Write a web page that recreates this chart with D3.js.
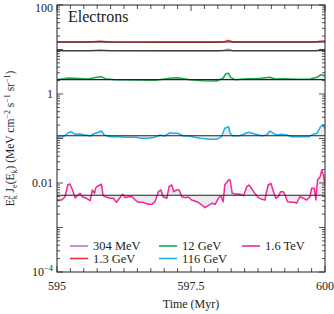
<!DOCTYPE html>
<html>
<head>
<meta charset="utf-8">
<script src="https://cdn.jsdelivr.net/npm/d3@7"></script>
<style>
  body { margin: 0; background: #fff; }
  text { font-family: "Liberation Serif", "DejaVu Serif", serif; fill: #222; }
</style>
</head>
<body>
<div id="chart"></div>
<script>
// series (time in Myr, flux in MeV cm^-2 s^-1 sr^-1)
var labels = ["304 MeV", "1.3 GeV", "12 GeV", "116 GeV", "1.6 TeV"];
var colors = ["#b07cc6", "#e8333a", "#22a55a", "#1fb0f0", "#ec2a9b"];
var means = [9.40, 14.75, 2.10, 0.115, 0.0053];

var timeMeV = [595, 595.6, 595.8, 596, 597, 598, 598.12, 598.2, 598.28, 599, 599.8, 599.92, 600];
var fluxMeV = [9.40, 9.40, 9.7, 9.40, 9.3, 9.3, 9.6, 10.2, 9.40, 9.35, 9.4, 9.7, 9.9];

var time1GeV = [595, 595.6, 595.8, 596, 597, 598, 598.12, 598.2, 598.28, 599, 599.8, 599.92, 600];
var flux1GeV = [14.75, 14.75, 15.3, 14.75, 14.6, 14.6, 14.9, 15.9, 14.75, 14.75, 14.75, 15.3, 15.6];

var time12GeV = [595.00, 595.21, 595.34, 595.58, 595.74, 595.83, 595.90, 596.08, 596.52, 596.83, 597.01,
  597.14, 597.26, 597.39, 597.48, 597.73, 597.98, 598.10, 598.15, 598.20, 598.24, 598.32, 598.54,
  598.73, 598.97, 599.07, 599.22, 599.47, 599.72, 599.85, 599.92, 599.97, 600.00];
var flux12GeV = [2.10, 2.29, 2.25, 2.17, 2.37, 2.45, 2.21, 2.10, 2.06, 2.03, 2.17,
  2.29, 2.32, 2.17, 2.10, 1.99, 1.96, 2.29, 2.86, 2.92, 2.37, 2.10, 2.21,
  2.21, 2.37, 2.17, 2.21, 2.14, 2.17, 2.37, 2.71, 2.63, 2.54];

var time116GeV = [595.00, 595.12, 595.21, 595.26, 595.34, 595.43, 595.52, 595.62, 595.68, 595.77, 595.83,
  595.88, 595.99, 596.14, 596.27, 596.46, 596.58, 596.70, 596.83, 596.92, 597.01, 597.11, 597.17,
  597.26, 597.36, 597.45, 597.67, 597.85, 597.98, 598.07, 598.13, 598.20, 598.23, 598.28, 598.41,
  598.57, 598.69, 598.82, 598.91, 598.97, 599.04, 599.10, 599.19, 599.29, 599.38, 599.53, 599.69,
  599.78, 599.85, 599.91, 599.96, 600.00];
var flux116GeV = [0.1064, 0.1097, 0.1349, 0.1422, 0.1242, 0.1262, 0.1199, 0.1138, 0.1262, 0.1377, 0.1476,
  0.1199, 0.1097, 0.1097, 0.1064, 0.1064, 0.1010, 0.1010, 0.1064, 0.1199, 0.1138, 0.1349, 0.1309,
  0.1309, 0.1138, 0.1138, 0.1010, 0.0959, 0.0959, 0.1097, 0.1695, 0.1841, 0.1309, 0.1156, 0.1156,
  0.1377, 0.1262, 0.1156, 0.1199, 0.1476, 0.1309, 0.1199, 0.1242, 0.1199, 0.1097, 0.1097, 0.1097,
  0.1242, 0.1309, 0.1786, 0.2011, 0.1695];

var time1TeV = [595.00, 595.09, 595.15, 595.20, 595.24, 595.29, 595.34, 595.39, 595.43, 595.47, 595.55,
  595.62, 595.66, 595.70, 595.72, 595.74, 595.80, 595.83, 595.86, 595.93, 595.99, 596.05, 596.11,
  596.18, 596.23, 596.27, 596.33, 596.40, 596.46, 596.52, 596.61, 596.70, 596.77, 596.83, 596.89,
  596.94, 596.98, 597.05, 597.09, 597.14, 597.18, 597.23, 597.28, 597.33, 597.39, 597.45, 597.51,
  597.61, 597.70, 597.76, 597.82, 597.89, 597.95, 598.01, 598.06, 598.10, 598.13, 598.20, 598.23,
  598.27, 598.35, 598.41, 598.48, 598.54, 598.58, 598.63, 598.69, 598.76, 598.82, 598.88, 598.91,
  598.94, 598.99, 599.04, 599.08, 599.13, 599.17, 599.22, 599.25, 599.30, 599.38, 599.44, 599.47,
  599.53, 599.60, 599.66, 599.72, 599.75, 599.80, 599.83, 599.86, 599.91, 599.94, 599.97, 600.00];
var flux1TeV = [0.00415, 0.00415, 0.00492, 0.00902, 0.00951, 0.00697, 0.00460, 0.00537, 0.00587, 0.00492, 0.00453,
  0.00400, 0.00697, 0.00587, 0.00760, 0.00826, 0.00902, 0.00935, 0.00519, 0.00477, 0.00453, 0.00453, 0.00368,
  0.00477, 0.00557, 0.00468, 0.00492, 0.00492, 0.00415, 0.00368, 0.00368, 0.00332, 0.00332, 0.00380, 0.00637,
  0.00697, 0.00492, 0.00453, 0.00826, 0.00902, 0.00637, 0.00697, 0.00697, 0.00492, 0.00468, 0.00484, 0.00415,
  0.00380, 0.00321, 0.00279, 0.00309, 0.00350, 0.00332, 0.00453, 0.00519, 0.00380, 0.00902, 0.01168, 0.01168,
  0.00587, 0.00557, 0.00566, 0.00519, 0.00826, 0.00902, 0.00760, 0.00587, 0.00468, 0.00430, 0.00415, 0.00637,
  0.00902, 0.00985, 0.00637, 0.00453, 0.00492, 0.00637, 0.00637, 0.00557, 0.00380, 0.00368, 0.00368, 0.00350,
  0.00492, 0.00453, 0.00415, 0.00492, 0.00760, 0.00760, 0.00415, 0.01168, 0.01386, 0.0196, 0.0151, 0.00902];

var times = [timeMeV, time1GeV, time12GeV, time116GeV, time1TeV];
var fluxes = [fluxMeV, flux1GeV, flux12GeV, flux116GeV, flux1TeV];

var xTickLabels = [595, 597.5, 600];
var yTickLabels = [100, 1, 0.01, 1e-4];

var width = 334, height = 314;
var margin = { top: 5, right: 9, bottom: 42, left: 57 };

var svg = d3.select("#chart").append("svg")
    .attr("width", width)
    .attr("height", height);

var x = d3.scaleLinear().domain([595, 600]).range([margin.left, width - margin.right]);
var y = d3.scaleLog().domain([1e-4, 100]).range([height - margin.bottom, margin.top]);

svg.append("clipPath").attr("id", "plotclip")
    .append("rect")
    .attr("x", x(595)).attr("y", y(100))
    .attr("width", x(600) - x(595)).attr("height", y(1e-4) - y(100));

var plot = svg.append("g").attr("clip-path", "url(#plotclip)");

// each series: faint grey band to its mean, coloured curve, then the black mean line on top
labels.forEach(function(label, i) {
    var pts = times[i].map(function(t, j) { return [t, fluxes[i][j]]; });

    var area = d3.area()
        .x(function(d) { return x(d[0]); })
        .y0(y(means[i]))
        .y1(function(d) { return y(d[1]); });

    plot.append("path")
        .datum(pts)
        .attr("d", area)
        .attr("fill", "#c8c8c8")
        .attr("opacity", 0.35);

    var line = d3.line()
        .x(function(d) { return x(d[0]); })
        .y(function(d) { return y(d[1]); });

    plot.append("path")
        .datum(pts)
        .attr("d", line)
        .attr("fill", "none")
        .attr("stroke", colors[i])
        .attr("stroke-width", 1.5)
        .attr("stroke-linejoin", "round");
});

plot.selectAll("line.mean")
    .data(means)
    .enter()
    .append("line")
    .attr("class", "mean")
    .attr("x1", x(595)).attr("x2", x(600))
    .attr("y1", function(d) { return y(d); })
    .attr("y2", function(d) { return y(d); })
    .attr("stroke", "#222")
    .attr("stroke-width", 1.1);

// inward ticks on all four sides
var xMinor = d3.range(0, 21).map(function(k) { return 595 + k * 0.25; });
var yMinor = [];
d3.range(-4, 2).forEach(function(e) {
    d3.range(1, 10).forEach(function(m) { yMinor.push(m * Math.pow(10, e)); });
});
yMinor.push(100);

var ticks = svg.append("g").attr("stroke", "#222").attr("stroke-width", 0.8);

ticks.selectAll("line.xb").data(xMinor).enter().append("line")
    .attr("x1", function(d) { return x(d); }).attr("x2", function(d) { return x(d); })
    .attr("y1", y(1e-4)).attr("y2", function(d) { return y(1e-4) - (xTickLabels.indexOf(d) >= 0 ? 6 : 4); });
ticks.selectAll("line.xt").data(xMinor).enter().append("line")
    .attr("x1", function(d) { return x(d); }).attr("x2", function(d) { return x(d); })
    .attr("y1", y(100)).attr("y2", function(d) { return y(100) + (xTickLabels.indexOf(d) >= 0 ? 6 : 4); });

function isDecade(v) {
    var l = Math.log10(v);
    return Math.abs(l - Math.round(l)) < 1e-9;
}
ticks.selectAll("line.yl").data(yMinor).enter().append("line")
    .attr("y1", function(d) { return y(d); }).attr("y2", function(d) { return y(d); })
    .attr("x1", x(595)).attr("x2", function(d) { return x(595) + (isDecade(d) ? 6 : 3); });
ticks.selectAll("line.yr").data(yMinor).enter().append("line")
    .attr("y1", function(d) { return y(d); }).attr("y2", function(d) { return y(d); })
    .attr("x1", x(600)).attr("x2", function(d) { return x(600) - (isDecade(d) ? 6 : 3); });

svg.append("rect")
    .attr("x", x(595)).attr("y", y(100))
    .attr("width", x(600) - x(595)).attr("height", y(1e-4) - y(100))
    .attr("fill", "none")
    .attr("stroke", "#222")
    .attr("stroke-width", 1);

// tick labels
svg.selectAll("text.xl").data(xTickLabels).enter().append("text")
    .attr("x", function(d) { return x(d); })
    .attr("y", y(1e-4) + 18)
    .attr("text-anchor", "middle")
    .attr("font-size", 12)
    .text(function(d) { return d; });

// the top label would be cut by the page edge, so keep it just inside
svg.selectAll("text.yl").data(yTickLabels).enter().append("text")
    .attr("x", x(595) - 4)
    .attr("y", function(d) { return Math.max(y(d) + 4, 12); })
    .attr("text-anchor", "end")
    .attr("font-size", 12)
    .each(function(d) {
        var t = d3.select(this);
        if (d < 0.001) {
            t.append("tspan").text("10");
            t.append("tspan").attr("dy", -5).attr("font-size", 8.5).text("\u22124");
        } else {
            t.text(d);
        }
    });

svg.append("text")
    .attr("x", (x(595) + x(600)) / 2)
    .attr("y", y(1e-4) + 36)
    .attr("text-anchor", "middle")
    .attr("font-size", 12)
    .text("Time (Myr)");

// y axis title with sub/superscripts
var yt = svg.append("text")
    .attr("transform", "translate(14," + ((y(100) + y(1e-4)) / 2) + ") rotate(-90)")
    .attr("text-anchor", "middle")
    .attr("font-size", 11.5);
var parts = [
    ["E", 0], ["2", -1], ["k", 1], [" J", 0], ["e", 1], ["(E", 0], ["k", 1], [") (MeV cm", 0],
    ["\u22122", -1], [" s", 0], ["\u22121", -1], [" sr", 0], ["\u22121", -1], [")", 0]
];
var prevShift = 0;
parts.forEach(function(p, i) {
    var shift = p[1] === -1 ? -4 : (p[1] === 1 ? 3 : 0);
    var ts = yt.append("tspan")
        .attr("dy", shift - prevShift)
        .attr("font-size", p[1] === 0 ? 11.5 : 8)
        .text(p[0]);
    // subscript k right under the superscript 2
    if (i === 2) ts.attr("dx", -4);
    prevShift = shift;
});

svg.append("text")
    .attr("x", x(595) + 11)
    .attr("y", y(100) + 17)
    .attr("font-size", 16)
    .text("Electrons");

// legend in three columns
var legendPos = [[70, 246], [70, 258.5], [159, 246], [159, 258.5], [242, 246]];
var legend = svg.selectAll("g.leg").data(labels).enter().append("g")
    .attr("transform", function(d, i) { return "translate(" + legendPos[i][0] + "," + legendPos[i][1] + ")"; });
legend.append("line")
    .attr("x1", 0).attr("x2", 18).attr("y1", 0).attr("y2", 0)
    .attr("stroke", function(d, i) { return colors[i]; })
    .attr("stroke-width", 1.6);
legend.append("text")
    .attr("x", 23).attr("y", 4)
    .attr("font-size", 12.5)
    .text(function(d) { return d; });
</script>
</body>
</html>
